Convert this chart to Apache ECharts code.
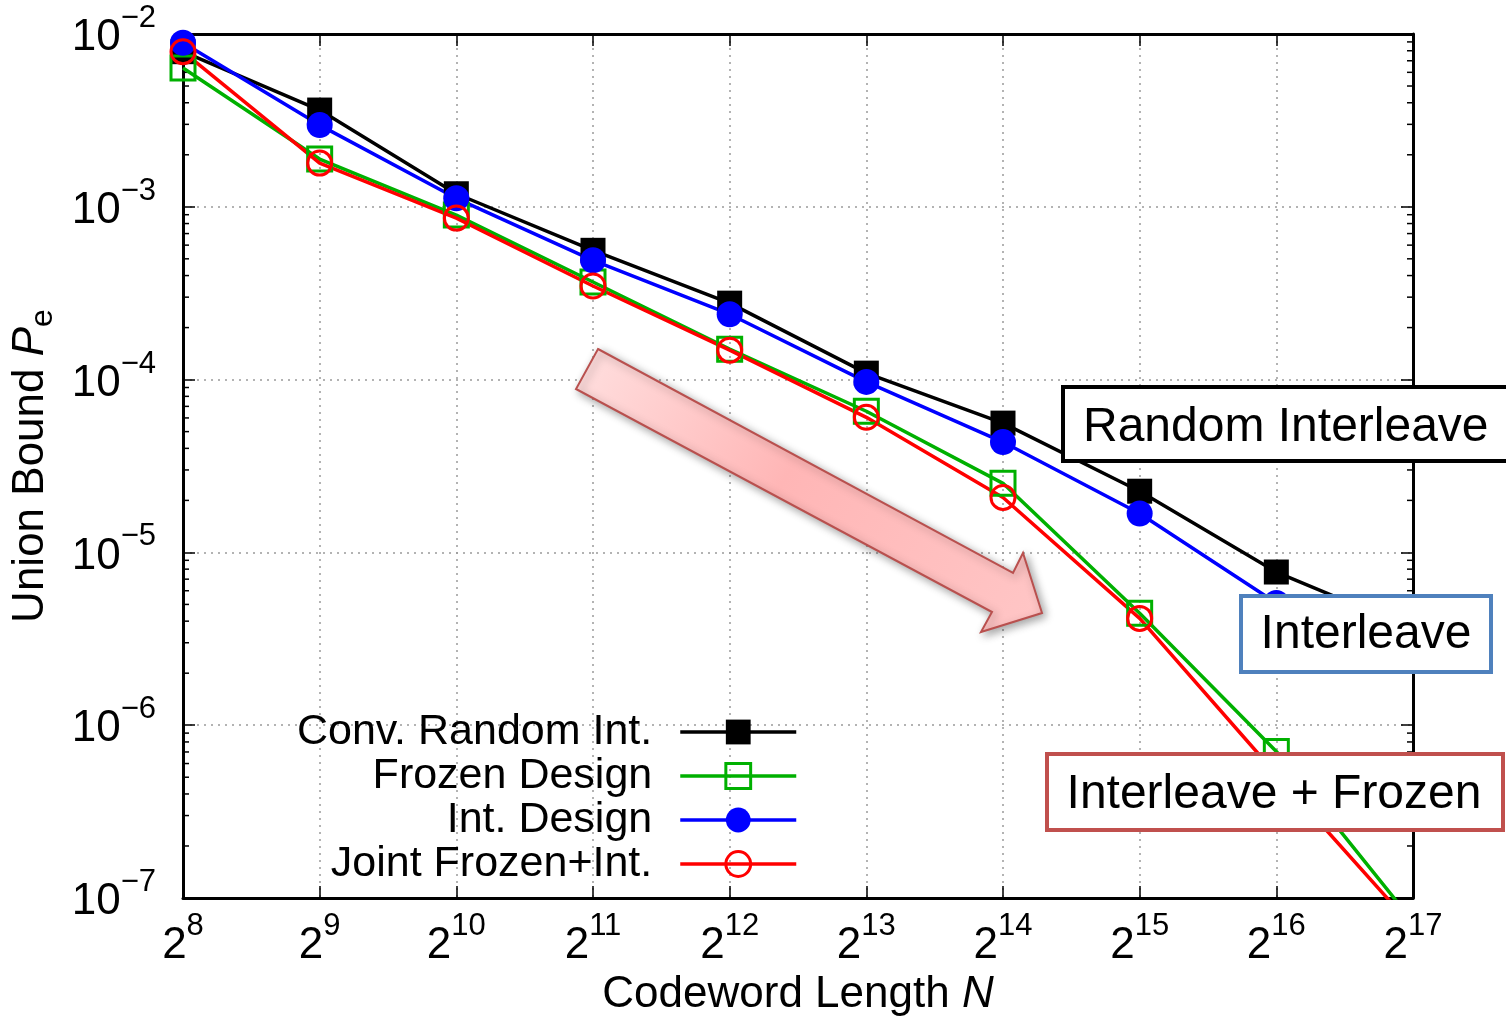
<!DOCTYPE html>
<html>
<head>
<meta charset="utf-8">
<script src="https://cdn.jsdelivr.net/npm/echarts@6/dist/echarts.min.js"></script>
<style>
html, body { margin: 0; padding: 0; background: #fff; }
#chart { width: 1506px; height: 1029px; }
</style>
</head>
<body>
<div id="chart"></div>
<script>
// Codeword lengths N = 2^8 ... 2^17
const codewordLengths = [256, 512, 1024, 2048, 4096, 8192, 16384, 32768, 65536, 131072];

// Union bound on the block error probability for each design
const convRandomInt  = [7.9e-3, 3.63e-3, 1.19e-3, 5.6e-4, 2.77e-4, 1.09e-4, 5.6e-5, 2.26e-5, 7.7e-6, 3.6e-6];
const frozenDesign   = [6.35e-3, 1.89e-3, 8.95e-4, 3.67e-4, 1.5e-4, 6.56e-5, 2.51e-5, 4.44e-6, 7.05e-7, 7.3e-8];
const intDesign      = [8.9e-3, 2.97e-3, 1.12e-3, 4.9e-4, 2.39e-4, 9.7e-5, 4.35e-5, 1.68e-5, 5.1e-6, 2.4e-6];
const jointFrozenInt = [7.9e-3, 1.79e-3, 8.6e-4, 3.48e-4, 1.48e-4, 6.05e-5, 2.08e-5, 4.15e-6, 5.2e-7, 6.8e-8];

const seriesNames = ['Conv. Random Int.', 'Frozen Design', 'Int. Design', 'Joint Frozen+Int.'];

// Decades that carry minor ticks (2..9 x 10^d) on the log y axis
const minorDecades = [-7, -6, -5, -4, -3];
const minorMultipliers = [2, 3, 4, 5, 6, 7, 8, 9];

const FONT = '"Liberation Sans", Arial, Helvetica, sans-serif';
const GREEN = '#00b000';
const BLUE = '#0000ff';
const RED = '#ff0000';
const LINE_W = 3.5;

const pairs = arr => codewordLengths.map((n, i) => [n, arr[i]]);

const minorTickValues = [];
minorDecades.forEach(d => minorMultipliers.forEach(k => minorTickValues.push(k * Math.pow(10, d))));

// base + superscript rich text for power-style tick labels
const powerRich = {
  b: { fontFamily: FONT, fontSize: 44, lineHeight: 57, verticalAlign: 'bottom', color: '#000' },
  s: { fontFamily: FONT, fontSize: 31, verticalAlign: 'top', color: '#000' }
};

const frameLine = { show: true, onZero: false, lineStyle: { color: '#000', width: 3 } };
const majorTick = { show: true, inside: true, length: 12, lineStyle: { color: '#000', width: 1.5 } };
const gridDots = { show: true, lineStyle: { color: '#9a9a9a', width: 1.5, type: [2, 5] } };

const chart = echarts.init(document.getElementById('chart'), null, { renderer: 'canvas' });

chart.setOption({
  animation: false,
  backgroundColor: '#fff',
  grid: { left: 183, top: 34, right: 93, bottom: 131, containLabel: false, outerBoundsMode: 'none' },
  xAxis: [
    {
      type: 'log', logBase: 2, min: 256, max: 131072, position: 'bottom',
      axisLine: frameLine, axisTick: majorTick, splitLine: gridDots,
      minorTick: { show: false }, minorSplitLine: { show: false },
      axisLabel: {
        margin: 12.5,
        formatter: v => '{b|2}{s|' + Math.round(Math.log2(v)) + '}',
        rich: powerRich
      },
      name: '{a|Codeword Length }{i|N}',
      nameLocation: 'middle', nameGap: 73,
      nameTextStyle: {
        rich: {
          a: { fontFamily: FONT, fontSize: 44, color: '#000' },
          i: { fontFamily: FONT, fontSize: 44, fontStyle: 'italic', color: '#000' }
        }
      }
    },
    {
      type: 'log', logBase: 2, min: 256, max: 131072, position: 'top',
      axisLine: frameLine, axisTick: majorTick, splitLine: { show: false },
      axisLabel: { show: false }
    }
  ],
  yAxis: [
    {
      type: 'log', logBase: 10, min: 1e-7, max: 1e-2, position: 'left',
      axisLine: frameLine, axisTick: majorTick, splitLine: gridDots,
      minorTick: { show: false }, minorSplitLine: { show: false },
      axisLabel: {
        margin: 27,
        padding: [0, 0, 5, 0],
        formatter: v => '{b|10}{s|\u2212' + (-Math.round(Math.log10(v))) + '}',
        rich: powerRich
      },
      name: '{a|Union Bound }{i|P}{s|e}',
      nameLocation: 'middle', nameGap: 124,
      nameTextStyle: {
        rich: {
          a: { fontFamily: FONT, fontSize: 44, lineHeight: 50, verticalAlign: 'top', color: '#000' },
          i: { fontFamily: FONT, fontSize: 44, lineHeight: 50, verticalAlign: 'top', fontStyle: 'italic', color: '#000' },
          s: { fontFamily: FONT, fontSize: 32, verticalAlign: 'bottom', color: '#000' }
        }
      }
    },
    {
      type: 'log', logBase: 10, min: 1e-7, max: 1e-2, position: 'right',
      axisLine: frameLine, axisTick: majorTick, splitLine: { show: false },
      axisLabel: { show: false }
    }
  ],
  legend: {
    data: [
      { name: seriesNames[0], lineStyle: { width: LINE_W } },
      { name: seriesNames[1], lineStyle: { width: LINE_W }, itemStyle: { borderWidth: 3 } },
      { name: seriesNames[2], lineStyle: { width: LINE_W } },
      { name: seriesNames[3], lineStyle: { width: LINE_W }, itemStyle: { borderWidth: 3 } }
    ],
    orient: 'vertical', align: 'right',
    right: 708, top: 710, padding: 0,
    itemWidth: 116, itemHeight: 31, itemGap: 0,
    selectedMode: false,
    textStyle: { fontFamily: FONT, fontSize: 43, color: '#000', lineHeight: 44, padding: [0, 23, 0, 0] }
  },
  series: [
    {
      // inward minor ticks on the left and right frame
      type: 'custom', coordinateSystem: 'cartesian2d', xAxisIndex: 0, yAxisIndex: 0,
      silent: true, clip: false, z: 3,
      data: minorTickValues.map(v => [codewordLengths[0], v]),
      renderItem: (params, api) => {
        const cs = params.coordSys;
        const y = api.coord([api.value(0), api.value(1)])[1];
        const l = cs.x, r = cs.x + cs.width;
        return {
          type: 'group',
          children: [
            { type: 'line', shape: { x1: l, y1: y, x2: l + 6, y2: y }, style: { stroke: '#000', lineWidth: 1.5 } },
            { type: 'line', shape: { x1: r - 6, y1: y, x2: r, y2: y }, style: { stroke: '#000', lineWidth: 1.5 } }
          ]
        };
      }
    },
    {
      name: seriesNames[0], type: 'line', data: pairs(convRandomInt),
      symbol: 'rect', symbolSize: 25,
      lineStyle: { color: '#000', width: LINE_W },
      itemStyle: { color: '#000' },
      emphasis: { disabled: true }
    },
    {
      name: seriesNames[1], type: 'line', data: pairs(frozenDesign),
      symbol: 'rect', symbolSize: 24,
      lineStyle: { color: GREEN, width: LINE_W },
      itemStyle: { color: 'rgba(255,255,255,0)', borderColor: GREEN, borderWidth: 3 },
      emphasis: { disabled: true }
    },
    {
      name: seriesNames[2], type: 'line', data: pairs(intDesign),
      symbol: 'circle', symbolSize: 26,
      lineStyle: { color: BLUE, width: LINE_W },
      itemStyle: { color: BLUE },
      emphasis: { disabled: true }
    },
    {
      name: seriesNames[3], type: 'line', data: pairs(jointFrozenInt),
      symbol: 'circle', symbolSize: 24,
      lineStyle: { color: RED, width: LINE_W },
      itemStyle: { color: 'rgba(255,255,255,0)', borderColor: RED, borderWidth: 3 },
      emphasis: { disabled: true }
    }
  ],
  graphic: [
    {
      type: 'polygon', z: 50, silent: true,
      shape: { points: [[598, 349], [1013, 573], [1023, 553], [1042, 613], [981, 632], [992, 612], [576, 389]] },
      style: {
        fill: {
          type: 'linear', x: 0, y: 0, x2: 1, y2: 1,
          colorStops: [
            { offset: 0, color: '#ffe0e0' },
            { offset: 0.45, color: '#ffb6b6' },
            { offset: 1, color: '#ffc6c6' }
          ]
        },
        stroke: '#b9504e', lineWidth: 2,
        shadowBlur: 8, shadowOffsetX: 3, shadowOffsetY: 3, shadowColor: 'rgba(0,0,0,0.35)'
      }
    },
    {
      type: 'rect', z: 50, silent: true,
      shape: { x: 1063, y: 387, width: 470, height: 74 },
      style: { fill: '#fff', stroke: '#000', lineWidth: 4 }
    },
    {
      type: 'text', z: 51, silent: true, x: 1083, y: 428,
      style: { text: 'Random Interleave', fontFamily: FONT, fontSize: 48, fill: '#000', align: 'left', verticalAlign: 'middle' }
    },
    {
      type: 'rect', z: 50, silent: true,
      shape: { x: 1241, y: 596, width: 250, height: 76 },
      style: { fill: '#fff', stroke: '#4f81bd', lineWidth: 4 }
    },
    {
      type: 'text', z: 51, silent: true, x: 1366, y: 635,
      style: { text: 'Interleave', fontFamily: FONT, fontSize: 48, fill: '#000', align: 'center', verticalAlign: 'middle' }
    },
    {
      type: 'rect', z: 50, silent: true,
      shape: { x: 1047, y: 754, width: 456, height: 76 },
      style: { fill: '#fff', stroke: '#c0504d', lineWidth: 4 }
    },
    {
      type: 'text', z: 51, silent: true, x: 1274, y: 795,
      style: { text: 'Interleave + Frozen', fontFamily: FONT, fontSize: 48, fill: '#000', align: 'center', verticalAlign: 'middle' }
    }
  ]
});
</script>
</body>
</html>
